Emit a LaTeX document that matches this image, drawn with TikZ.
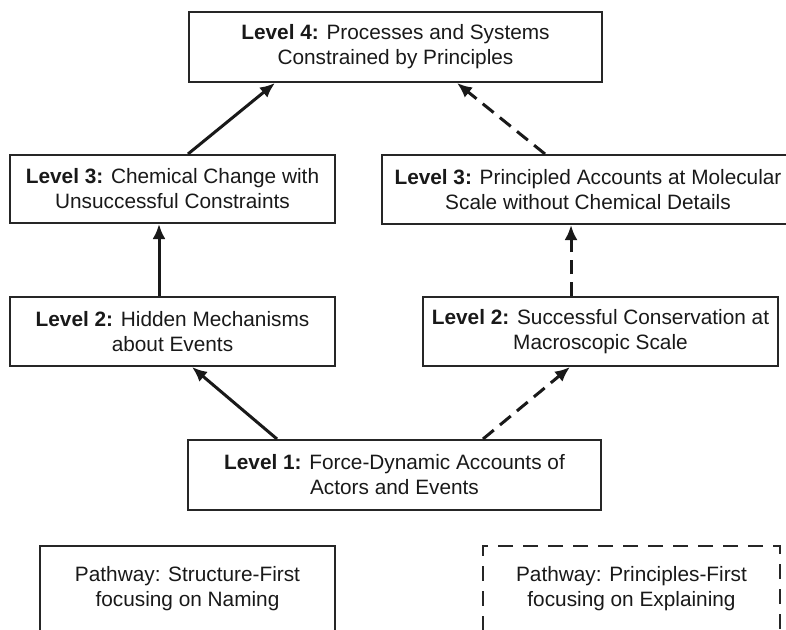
\documentclass[tikz,border=0pt]{standalone}
\usepackage{fontspec}
\setmainfont{Liberation Sans}
\usetikzlibrary{arrows.meta}
\tikzset{
  lvbox/.style={draw=black!85, line width=2pt, rectangle, align=center, inner sep=0pt,
    font=\fontsize{20.8}{25}\selectfont, text=black!90},
  conn/.style={line width=3pt, draw=black!90, -{Latex[length=15pt,width=13pt]}},
  dconn/.style={conn, dash pattern=on 14pt off 8pt},
  dbox/.style={lvbox, line width=2.8pt, dash pattern=on 15pt off 10pt}
}
\begin{document}
\begin{tikzpicture}[x=1pt,y=-1pt]
\useasboundingbox (0,0) rectangle (786,629);
\clip (0,0) rectangle (786,629);
\node[lvbox, minimum width=413pt, minimum height=70pt] (L4) at (395.5,47)
  {\textbf{Level 4:} Processes and Systems\\Constrained by Principles};
\node[lvbox, minimum width=325pt, minimum height=68pt] (L3L) at (172.5,189)
  {\textbf{Level 3:} Chemical Change with\\Unsuccessful Constraints};
\node[lvbox, minimum width=412pt, minimum height=69pt] (L3R) at (588,189.5)
  {\textbf{Level 3:} Principled Accounts at Molecular\\Scale without Chemical Details};
\node[lvbox, minimum width=325pt, minimum height=69pt] (L2L) at (172.5,331.5)
  {\textbf{Level 2:} Hidden Mechanisms\\about Events};
\node[lvbox, minimum width=355pt, minimum height=69pt] (L2R) at (600.5,331.5)
  {\textbf{Level 2:} Successful Conservation at\\Macroscopic Scale};
\node[lvbox, minimum width=413pt, minimum height=70pt] (L1) at (394.5,475)
  {\textbf{Level 1:} Force-Dynamic Accounts of\\Actors and Events};
\node[lvbox, minimum width=295pt, minimum height=86pt] (PL) at (187.5,589)
  {Pathway: Structure-First\\focusing on Naming};
\node[dbox, minimum width=297pt, minimum height=86pt] (PR) at (631.5,589)
  {Pathway: Principles-First\\focusing on Explaining};

\draw[conn] ([xshift=15.5pt]L3L.north) -- ([xshift=-120.5pt]L4.south);
\draw[dconn] ([xshift=-43pt]L3R.north) -- ([xshift=61.5pt]L4.south);
\draw[conn] ([xshift=-13.5pt]L2L.north) -- ([xshift=-13.5pt]L3L.south);
\draw[dconn] ([xshift=-29.5pt]L2R.north) -- ([xshift=-17pt]L3R.south);
\draw[conn] ([xshift=-117.5pt]L1.north) -- ([xshift=19.5pt]L2L.south);
\draw[dconn] ([xshift=88.5pt]L1.north) -- ([xshift=-30.5pt]L2R.south);
\end{tikzpicture}
\end{document}
